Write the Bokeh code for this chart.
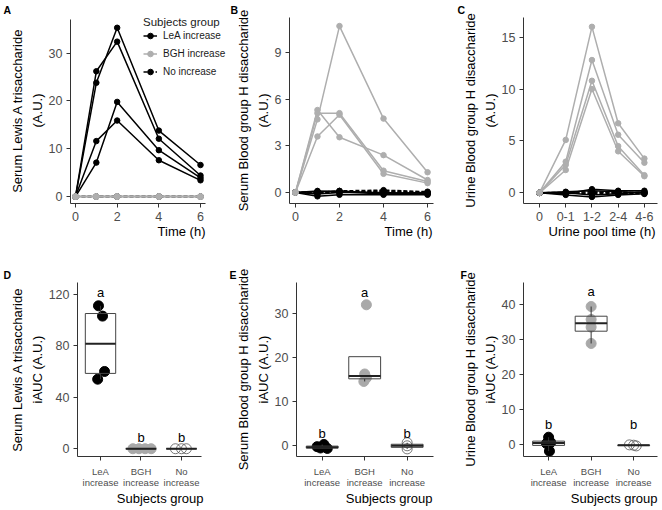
import numpy as np
from bokeh.plotting import figure
from bokeh.layouts import row, column
from bokeh.models import Range1d, FixedTicker, Label, Legend, LegendItem, Title
from bokeh.embed import file_html
from bokeh.resources import INLINE

FONT = "Liberation Sans"
BLACK = "#000000"
GRAY = "#AEAEAE"
PT_GRAY = "#A9A9A9"
AXIS_COL = "#333333"
TICK_TXT = "#4D4D4D"

# ---------------- data ----------------
time_h = [0, 1, 2, 4, 6]
urine_pool = ["0", "0-1", "1-2", "2-4", "4-6"]
group_ticks = ["LeA\nincrease", "BGH\nincrease", "No\nincrease"]
legend_labels = ["LeA increase", "BGH increase", "No increase"]

# A: serum Lewis A trisaccharide (A.U.)
serumLeA_lea = [[0, 23.8, 35.3, 13.8, 6.6],
                [0, 26.2, 32.4, 12.1, 4.4],
                [0, 7.1, 19.8, 9.7, 3.9],
                [0, 11.6, 15.9, 7.6, 3.4]]
serumLeA_bgh = [[0, 0, 0, 0, 0],
                [0, 0, 0, 0, 0],
                [0, 0, 0, 0, 0],
                [0, 0, 0, 0, 0]]
serumLeA_no = [[0, 0, 0, 0, 0],
               [0, 0, 0, 0, 0],
               [0, 0, 0, 0, 0]]

# B: serum blood group H disaccharide (A.U.)
serumBGH_lea = [[0, 0.10, 0.05, -0.10, -0.05],
                [0, -0.25, -0.15, -0.15, -0.15],
                [0, -0.10, 0.00, 0.00, -0.10],
                [0, 0.05, 0.10, -0.05, 0.00]]
serumBGH_bgh = [[0, 4.7, 10.7, 4.75, 1.3],
                [0, 5.3, 3.55, 2.4, 0.8],
                [0, 5.1, 5.1, 1.4, 0.7],
                [0, 3.6, 5.0, 1.2, 0.6]]
serumBGH_no = [[0, 0.00, 0.10, 0.15, 0.05],
               [0, 0.05, 0.00, 0.10, 0.00],
               [0, -0.05, 0.05, 0.05, -0.05]]

# C: urine blood group H disaccharide (A.U.)
urineBGH_lea = [[0, -0.1, 0.35, 0.2, 0.2],
                [0, -0.2, -0.4, -0.2, -0.1],
                [0, 0.1, 0.2, 0.1, 0.0],
                [0, 0.0, -0.2, -0.1, 0.1]]
urineBGH_bgh = [[0, 5.1, 16.0, 6.7, 3.3],
                [0, 3.0, 12.8, 5.6, 2.9],
                [0, 2.7, 10.8, 4.5, 1.7],
                [0, 2.2, 10.0, 4.0, 1.6]]
urineBGH_no = [[0, 0.05, 0.1, 0.0, -0.1],
               [0, -0.05, 0.0, 0.1, 0.0],
               [0, 0.0, -0.1, -0.05, 0.05]]

# D: serum LeA iAUC
iaucD_lea = [111, 103, 60, 54]
iaucD_bgh = [0, 0, 0, 0]
iaucD_no = [0, 0, 0]
# E: serum BGH iAUC
iaucE_lea = [-0.2, 0.3, -0.6, -0.5]
iaucE_bgh = [32.0, 16.3, 15.4, 14.6]
iaucE_no = [0.7, 0.0, -0.7]
# F: urine BGH iAUC
iaucF_lea = [2.0, 0.5, 0.2, -2.0]
iaucF_bgh = [39.5, 35.8, 33.6, 28.9]
iaucF_no = [-0.2, -0.5, -0.3]

# significance letters (LeA, BGH, No) and their heights
sigD = ["a", "b", "b"]; sigD_y = [121.5, 8.5, 8.5]
sigE = ["b", "a", "b"]; sigE_y = [2.9, 34.9, 2.9]
sigF = ["b", "a", "b"]; sigF_y = [5.6, 43.7, 5.6]

# jitter offsets (x) of the iAUC points
jitD = [[-0.05, 0.05, 0.10, -0.07], [-0.20, -0.05, 0.10, 0.25], [-0.15, 0.0, 0.12]]
jitE = [[-0.12, 0.04, 0.12, -0.04], [0.04, 0.0, 0.04, -0.02], [0.0, 0.0, 0.0]]
jitF = [[0.0, 0.05, -0.05, 0.02], [0.0, 0.0, 0.0, 0.0], [-0.1, 0.06, 0.0]]


def panel(width, height, bl, br, bt, bb, xr, yr, xticks, yticks, ylabel):
    p = figure(width=width, height=height, output_backend="svg", toolbar_location=None,
               x_range=Range1d(*xr), y_range=Range1d(*yr),
               min_border_left=bl, min_border_right=br, min_border_top=bt, min_border_bottom=bb)
    p.outline_line_color = None
    p.xgrid.visible = False
    p.ygrid.visible = False
    for ax in (p.xaxis[0], p.yaxis[0]):
        ax.axis_line_color = AXIS_COL
        ax.major_tick_line_color = AXIS_COL
        ax.major_tick_out = 4
        ax.major_tick_in = 0
        ax.minor_tick_line_color = None
        ax.major_label_text_font = FONT
        ax.major_label_text_font_size = "12.5px"
        ax.major_label_text_color = TICK_TXT
        ax.major_label_standoff = 4
        ax.axis_label_text_font = FONT
        ax.axis_label_text_font_size = "13px"
        ax.axis_label_text_font_style = "normal"
        ax.axis_label_text_color = BLACK
        ax.axis_label_text_line_height = 1.3
        ax.axis_label_standoff = 1
    p.xaxis.ticker = FixedTicker(ticks=xticks)
    p.yaxis.ticker = FixedTicker(ticks=yticks)
    p.yaxis.axis_label = ylabel
    return p


def letter(p, txt, off):
    p.add_layout(Title(text=txt, align="left", offset=off, vertical_align="top", standoff=0,
                       text_font=FONT, text_font_size="10.5px", text_font_style="bold",
                       text_color=BLACK), "above")


def xtitle(p, txt, off, standoff):
    p.add_layout(Title(text=txt, align="right", offset=off, vertical_align="top", standoff=standoff,
                       text_font=FONT, text_font_size="13px", text_font_style="normal",
                       text_color=BLACK), "below")


def draw_series(p, xs, series, color, dash):
    first = None
    for ys in series:
        l = p.line(xs, ys, line_color=color, line_width=1.5, line_dash=dash)
        s = p.scatter(xs, ys, size=5.5, marker="circle", fill_color=color, line_color=color)
        if first is None:
            first = [l, s]
    return first


def draw_box(p, xc, vals, offs, kind, w=0.75):
    xs = [xc + o for o in offs]
    if kind == 0:
        p.scatter(xs, vals, size=10, marker="circle", fill_color=BLACK, line_color=BLACK)
    elif kind == 1:
        p.scatter(xs, vals, size=10, marker="circle", fill_color=PT_GRAY, line_color=PT_GRAY)
    else:
        p.scatter(xs, vals, size=10, marker="circle", fill_color=None,
                  line_color="#555555", line_width=0.8)
    q1, med, q3 = np.percentile(vals, [25, 50, 75])
    iqr = q3 - q1
    inside = [v for v in vals if q1 - 1.5 * iqr <= v <= q3 + 1.5 * iqr]
    lo = min([q1] + inside)
    hi = max([q3] + inside)
    p.segment(x0=[xc, xc], y0=[q3, q1], x1=[xc, xc], y1=[hi, lo], line_color="#333333", line_width=1)
    p.quad(left=[xc - w / 2], right=[xc + w / 2], bottom=[q1], top=[q3],
           fill_color=None, line_color="#444444", line_width=1)
    p.segment(x0=[xc - w / 2], y0=[med], x1=[xc + w / 2], y1=[med], line_color="#222222", line_width=2)


# ---------------- top row ----------------
TH, BB_T = 244, 41

pA = panel(229, TH, 70, 0, 15, BB_T, (-0.24, 7.392), (-1.45, 37.45), [0, 2, 4, 6], [0, 10, 20, 30],
           "Serum Lewis A trisaccharide\n(A.U.)")
pA.xaxis.bounds = (-0.24, 6.24)
pA.yaxis.bounds = (-1.45, 37.0)
rA_no = draw_series(pA, time_h, serumLeA_no, BLACK, "4 2")
rA_lea = draw_series(pA, time_h, serumLeA_lea, BLACK, "solid")
rA_bgh = draw_series(pA, time_h, serumLeA_bgh, GRAY, "solid")
FH_A = TH - 15 - BB_T
LEG_H = 64  # approximate legend height (title + 3 rows)
leg = Legend(items=[LegendItem(label=legend_labels[0], renderers=rA_lea),
                    LegendItem(label=legend_labels[1], renderers=rA_bgh),
                    LegendItem(label=legend_labels[2], renderers=rA_no)],
             location=(73, FH_A - LEG_H), title="Subjects group",
             title_text_font=FONT, title_text_font_size="11.5px", title_text_font_style="normal",
             title_text_color="#1A1A1A", title_standoff=0,
             label_text_font=FONT, label_text_font_size="10px",
             label_text_color="#1A1A1A", label_standoff=6,
             glyph_width=14, glyph_height=15, label_height=15, spacing=3,
             padding=0, margin=0, border_line_color=None, background_fill_alpha=0)
pA.add_layout(leg)
letter(pA, "A", -67)
xtitle(pA, "Time (h)", 24, 0)

pB = panel(226, TH, 60, 22, 17, BB_T, (-0.27, 6.27), (-0.71, 11.25), [0, 2, 4, 6], [0, 3, 6, 9],
           "Serum Blood group H disaccharide\n(A.U.)")
draw_series(pB, time_h, serumBGH_lea, BLACK, "solid")
draw_series(pB, time_h, serumBGH_no, BLACK, "4 2")
draw_series(pB, time_h, serumBGH_bgh, GRAY, "solid")
letter(pB, "B", -59)
xtitle(pB, "Time (h)", 1, 0)

xc = list(range(len(urine_pool)))
pC = panel(205, TH, 68, 3, 17, BB_T, (-0.61, 4.5), (-1.03, 16.9), xc, [0, 5, 10, 15],
           "Urine Blood group H disaccharide\n(A.U.)")
pC.xaxis.major_label_overrides = {i: s for i, s in enumerate(urine_pool)}
draw_series(pC, xc, urineBGH_lea, BLACK, "solid")
draw_series(pC, xc, urineBGH_no, BLACK, "4 2")
draw_series(pC, xc, urineBGH_bgh, GRAY, "solid")
letter(pC, "C", -66)
xtitle(pC, "Urine pool time (h)", 2, 0)

# ---------------- bottom row ----------------
BHh, BT_B, BB_B = 264, 38, 47
gx = [1, 2, 3]


def bottom_panel(width, bl, br, xr, yr, yticks, ylabel, data, jit, sig, sig_y, let, let_off, t_off):
    p = panel(width, BHh, bl, br, BT_B, BB_B, xr, yr, gx, yticks, ylabel)
    p.xaxis.major_label_overrides = {g: t for g, t in zip(gx, group_ticks)}
    p.xaxis.major_label_text_font_size = "9.5px"
    p.xaxis.major_label_text_line_height = 1.0
    p.xaxis.major_label_standoff = 5
    for k, (vals, offs) in enumerate(zip(data, jit)):
        draw_box(p, gx[k], vals, offs, k)
    for g, s, yy in zip(gx, sig, sig_y):
        p.add_layout(Label(x=g, y=yy, text=s, text_font=FONT, text_font_size="13px",
                           text_align="center", text_baseline="middle", text_color=BLACK))
    letter(p, let, let_off)
    xtitle(p, "Subjects group", t_off, 1)
    return p


pD = bottom_panel(228, 77, 27, (0.432, 3.494), (-6.04, 129.1), [0, 40, 80, 120],
                  "Serum Lewis A trisaccharide\niAUC (A.U.)",
                  [iaucD_lea, iaucD_bgh, iaucD_no], jitD, sigD, sigD_y, "D", -74, -2)
pE = bottom_panel(227, 68, 22, (0.395, 3.62), (-2.43, 37.06), [0, 10, 20, 30],
                  "Serum Blood group H disaccharide\niAUC (A.U.)",
                  [iaucE_lea, iaucE_bgh, iaucE_no], jitE, sigE, sigE_y, "E", -67, 1)
pF = bottom_panel(205, 68, 3, (0.41, 3.56), (-3.54, 46.4), [0, 10, 20, 30, 40],
                  "Urine Blood group H disaccharide\niAUC (A.U.)",
                  [iaucF_lea, iaucF_bgh, iaucF_no], jitF, sigF, sigF_y, "F", -63, 0)

layout = column(row(pA, pB, pC, spacing=0), row(pD, pE, pF, spacing=0), spacing=0)
open("out.html", "w").write(file_html(layout, INLINE))
